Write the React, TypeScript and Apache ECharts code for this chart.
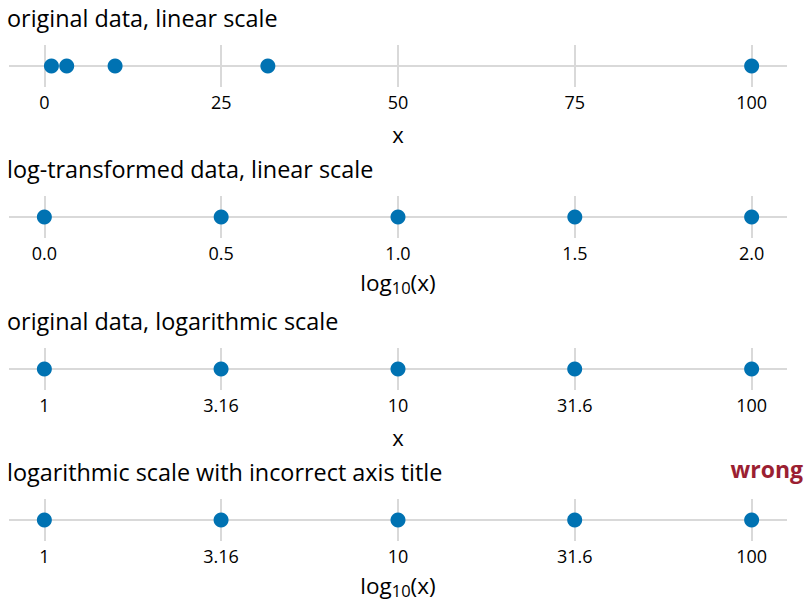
import React, { useEffect, useRef } from "react";
import * as echarts from "echarts";

const panelTitles = [
  "original data, linear scale",
  "log-transformed data, linear scale",
  "original data, logarithmic scale",
  "logarithmic scale with incorrect axis title",
];
const xValues = [1, 3.16, 10, 31.6, 100];
const logXValues = [0, 0.5, 1.0, 1.5, 2.0];
const linearTicks = [0, 25, 50, 75, 100];
const linearTickLabels = ["0", "25", "50", "75", "100"];
const logTransTicks = [0, 0.5, 1.0, 1.5, 2.0];
const logTransTickLabels = ["0.0", "0.5", "1.0", "1.5", "2.0"];
const logTicks = [1, 3.16, 10, 31.6, 100];
const logTickLabels = ["1", "3.16", "10", "31.6", "100"];
const axisTitles = ["x", "{a|log}{b|10}{a|(x)}", "x", "{a|log}{b|10}{a|(x)}"];
const wrongLabel = "wrong";

const FONT = "Open Sans";
const POINT = "#0072B2";
const GRIDC = "#d9d9d9";

export default function App() {
  const ref = useRef<HTMLDivElement>(null);
  useEffect(() => {
    document.body.style.margin = "0";
    const chart = echarts.init(ref.current!, null, { renderer: "svg" });
    const lines = [66, 217, 369, 520];
    const nameGaps = [36, 30, 36, 30];
    const panels = [
      { type: "value", min: -5, max: 105, data: xValues, ticks: linearTicks, labels: linearTickLabels },
      { type: "value", min: -0.1, max: 2.1, data: logXValues, ticks: logTransTicks, labels: logTransTickLabels },
      { type: "log", min: Math.pow(10, -0.1), max: Math.pow(10, 2.1), data: xValues, ticks: logTicks, labels: logTickLabels },
      { type: "log", min: Math.pow(10, -0.1), max: Math.pow(10, 2.1), data: xValues, ticks: logTicks, labels: logTickLabels },
    ];
    const grid: any[] = [];
    const xAxis: any[] = [];
    const yAxis: any[] = [];
    const series: any[] = [];
    const graphic: any[] = [];
    panels.forEach((p, i) => {
      const L = lines[i];
      grid.push({ left: 9, width: 778, top: L - 21, height: 42 });
      xAxis.push({
        gridIndex: i,
        type: p.type,
        logBase: 10,
        min: p.min,
        max: p.max,
        axisLine: { show: false },
        axisTick: { show: false },
        splitLine: { show: false },
        axisLabel: {
          customValues: p.ticks,
          formatter: (v: number) => {
            let best = 0;
            p.ticks.forEach((t, k) => {
              if (Math.abs(t - v) < Math.abs(p.ticks[best] - v)) best = k;
            });
            return p.labels[best];
          },
          fontSize: 18,
          fontFamily: FONT,
          color: "#000",
          margin: 6,
        },
        name: axisTitles[i],
        nameLocation: "middle",
        nameGap: nameGaps[i],
        nameTextStyle: {
          fontSize: 22,
          fontFamily: FONT,
          color: "#000",
          rich: {
            a: { fontSize: 22.5, fontFamily: FONT, color: "#000", lineHeight: 28 },
            b: { fontSize: 16.5, fontFamily: FONT, color: "#000", lineHeight: 14, verticalAlign: "bottom" },
          },
        },
      });
      yAxis.push({ gridIndex: i, type: "value", min: -1, max: 1, show: false });
      series.push({
        type: "scatter",
        xAxisIndex: i,
        yAxisIndex: i,
        data: p.data.map((v) => [v, 0]),
        symbolSize: 15,
        itemStyle: { color: POINT, opacity: 1 },
        z: 10,
        silent: true,
        markLine: {
          z: 1,
          silent: true,
          symbol: ["none", "none"],
          label: { show: false },
          lineStyle: { color: GRIDC, width: 2, type: "solid" },
          data: [...p.ticks.map((t) => ({ xAxis: t })), { yAxis: 0 }],
        },
      });
      graphic.push({
        type: "text",
        x: 7,
        y: L - 48,
        style: { text: panelTitles[i], font: `23.4px '${FONT}'`, fill: "#000", verticalAlign: "middle" },
      });
    });
    graphic.push({
      type: "text",
      x: 803,
      y: 469,
      style: { text: wrongLabel, font: `bold 23px '${FONT}'`, fill: "#9b1f32", align: "right", verticalAlign: "middle" },
    });
    chart.setOption({ animation: false, grid, xAxis, yAxis, series, graphic });
    return () => chart.dispose();
  }, []);
  return <div ref={ref} style={{ width: 806, height: 606 }} />;
}
